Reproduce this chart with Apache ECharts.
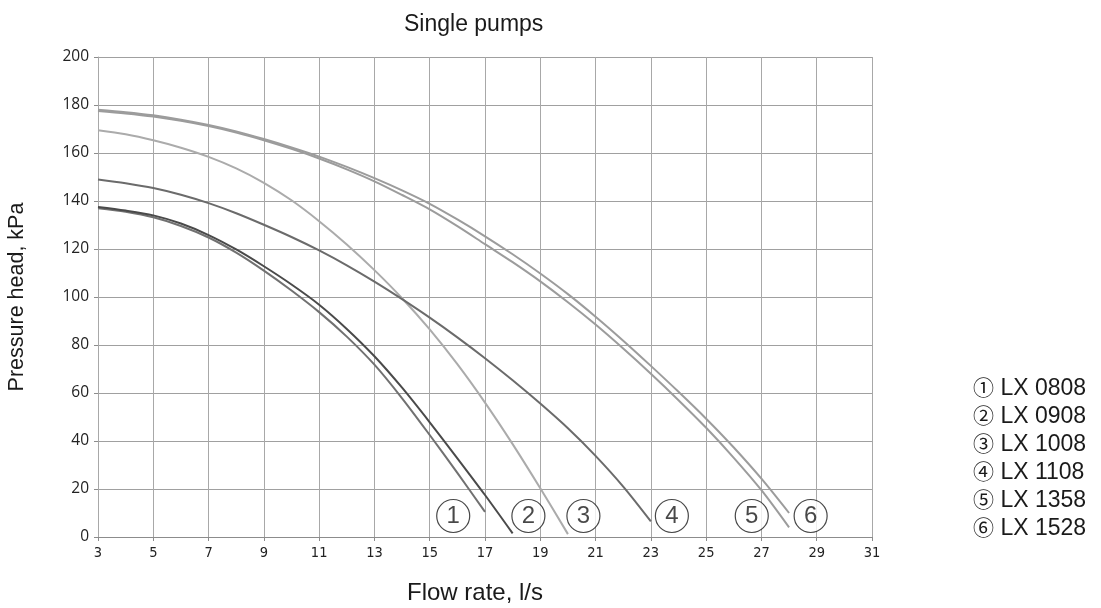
<!DOCTYPE html>
<html>
<head>
<meta charset="utf-8">
<script src="https://cdn.jsdelivr.net/npm/echarts@6/dist/echarts.min.js"></script>
<style>html,body{margin:0;padding:0;background:#fff;}#c{width:1101px;height:608px;}</style>
</head>
<body>
<div id="c"></div>
<script>
const seriesNames = ['LX 0808', 'LX 0908', 'LX 1008', 'LX 1108', 'LX 1358', 'LX 1528'];
const circled = ['\u2460', '\u2461', '\u2462', '\u2463', '\u2464', '\u2465'];
const markerDigits = ['1', '2', '3', '4', '5', '6'];

const flow1 = [3, 4, 5, 6, 7, 8, 9, 10, 11, 12, 13, 14, 15, 16, 17];
const head1 = [137, 135.5, 133.2, 129.6, 124.8, 118.5, 111, 102.7, 93.7, 83.5, 71.8, 57.8, 42.5, 26.7, 10.5];

const flow2 = [3, 4, 5, 6, 7, 8, 9, 10, 11, 12, 13, 14, 15, 16, 17, 18];
const head2 = [137.5, 136, 134, 130.6, 125.8, 119.8, 112.8, 105.2, 96.8, 86.7, 75.3, 62.2, 47.8, 32.8, 17.5, 1.5];

const flow3 = [3, 4, 5, 6, 7, 8, 9, 10, 11, 12, 13, 14, 15, 16, 17, 18, 19, 20];
const head3 = [169.5, 167.8, 165.3, 162.2, 158.4, 153.6, 147.6, 140.3, 131.6, 121.9, 111.2, 99.5, 86.5, 72, 56, 38.7, 20.3, 1.2];

const flow4 = [3, 4, 5, 6, 7, 8, 9, 10, 11, 12, 13, 14, 15, 16, 17, 18, 19, 20, 21, 22, 23];
const head4 = [149, 147.4, 145.4, 142.6, 139.1, 134.9, 130.1, 125, 119.4, 113.2, 106.4, 99.1, 91.4, 83.2, 74.5, 65.3, 55.6, 45.3, 33.8, 21, 6.5];

const flow5 = [3, 4, 5, 6, 7, 8, 9, 10, 11, 12, 13, 14, 15, 16, 17, 18, 19, 20, 21, 22, 23, 24, 25, 26, 27, 28];
const head5 = [177.5, 176.5, 175.2, 173.4, 171.2, 168.5, 165.3, 161.7, 157.7, 153.2, 148.2, 142.5, 136.5, 129.5, 122, 114.5, 106.5, 97.8, 88.5, 78.5, 68, 57, 45.5, 33, 19.5, 4];

const flow6 = [3, 4, 5, 6, 7, 8, 9, 10, 11, 12, 13, 14, 15, 16, 17, 18, 19, 20, 21, 22, 23, 24, 25, 26, 27, 28];
const head6 = [178, 177, 175.7, 173.9, 171.7, 169, 165.8, 162.3, 158.5, 154.2, 149.5, 144.4, 138.8, 132.3, 125.3, 117.8, 109.8, 101.2, 91.8, 81.8, 71.3, 60.5, 49.3, 37.3, 24.3, 10];

const markerFlow = [15.85, 18.57, 20.56, 23.76, 26.65, 28.78];
const markerHead = [8.75, 8.75, 8.75, 8.75, 8.75, 8.75];

const xTicks = [3, 5, 7, 9, 11, 13, 15, 17, 19, 21, 23, 25, 27, 29, 31];
const yTicks = [0, 20, 40, 60, 80, 100, 120, 140, 160, 180, 200];

const flows = [flow1, flow2, flow3, flow4, flow5, flow6];
const heads = [head1, head2, head3, head4, head5, head6];
const colors = ['#717171', '#4a4a4a', '#ababab', '#6b6b6b', '#9c9c9c', '#9c9c9c'];

const zip = (a, b) => a.map((v, i) => [v, b[i]]);

const series = seriesNames.map((n, i) => ({
  name: n,
  type: 'line',
  data: zip(flows[i], heads[i]),
  smooth: 0.3,
  symbol: 'none',
  lineStyle: { color: colors[i], width: 2 },
  itemStyle: { color: colors[i] },
  z: 3
}));

series.push({
  name: 'markers',
  type: 'scatter',
  data: zip(markerFlow, markerHead),
  symbol: 'circle',
  symbolSize: 33,
  itemStyle: { color: '#fff', borderColor: '#1a1a1a', borderWidth: 1.2 },
  label: {
    show: true, position: 'inside',
    formatter: p => markerDigits[p.dataIndex],
    color: '#1a1a1a', fontSize: 24, fontFamily: 'Liberation Sans'
  },
  emphasis: { disabled: true },
  silent: true,
  z: 5
});

const chart = echarts.init(document.getElementById('c'), null, { renderer: 'canvas' });
chart.setOption({
  animation: false,
  backgroundColor: '#fff',
  title: {
    text: 'Single pumps',
    left: 399, top: 8,
    textStyle: { fontFamily: 'Liberation Sans', fontSize: 23, fontWeight: 'normal', color: '#1a1a1a' }
  },
  legend: {
    data: seriesNames,
    orient: 'vertical',
    left: 963, top: 372,
    icon: 'none',
    itemWidth: 0, itemHeight: 14,
    itemGap: 4,
    formatter: n => '{c|' + circled[seriesNames.indexOf(n)] + '}{t| ' + n + '}',
    textStyle: {
      fontFamily: 'Liberation Sans', fontSize: 23, color: '#1a1a1a', padding: 0, lineHeight: 23,
      rich: {
        c: { fontFamily: 'Noto Sans CJK SC', fontSize: 21, color: '#1a1a1a', lineHeight: 23, verticalAlign: 'middle', padding: [0, 0, 3, 0] },
        t: { fontFamily: 'Liberation Sans', fontSize: 23, color: '#1a1a1a', lineHeight: 23, verticalAlign: 'middle' }
      }
    },
    selectedMode: false
  },
  grid: { left: 98, right: 229, top: 57, bottom: 71, outerBoundsMode: 'none', containLabel: false },
  xAxis: {
    type: 'value', min: 3, max: 31,
    name: 'Flow rate, l/s', nameLocation: 'middle', nameGap: 44,
    nameTextStyle: { fontFamily: 'Liberation Sans', fontSize: 24, color: '#1a1a1a', padding: [0, 20, 0, 0] },
    axisLine: { show: true, onZero: false, lineStyle: { color: '#8c8c8c', width: 1 } },
    axisTick: { show: true, length: 4, customValues: xTicks, lineStyle: { color: '#8c8c8c' } },
    axisLabel: { customValues: xTicks, margin: 9, fontFamily: 'DejaVu Sans Condensed, Liberation Sans', fontSize: 14.5, color: '#222' },
    splitLine: { show: true, lineStyle: { color: '#a8a8a8', width: 1 } }
  },
  yAxis: {
    type: 'value', min: 0, max: 200, interval: 20,
    name: 'Pressure head, kPa', nameLocation: 'middle', nameGap: 70, nameRotate: 90,
    nameTextStyle: { fontFamily: 'Liberation Sans', fontSize: 21.5, color: '#1a1a1a' },
    axisLine: { show: true, lineStyle: { color: '#a8a8a8', width: 1 } },
    axisTick: { show: true, length: 4, lineStyle: { color: '#8c8c8c' } },
    axisLabel: { margin: 9, fontFamily: 'Open Sans', fontSize: 15.5, color: '#222' },
    splitLine: { show: true, lineStyle: { color: '#a0a0a0', width: 1 } }
  },
  series: series
});
</script>
</body>
</html>
